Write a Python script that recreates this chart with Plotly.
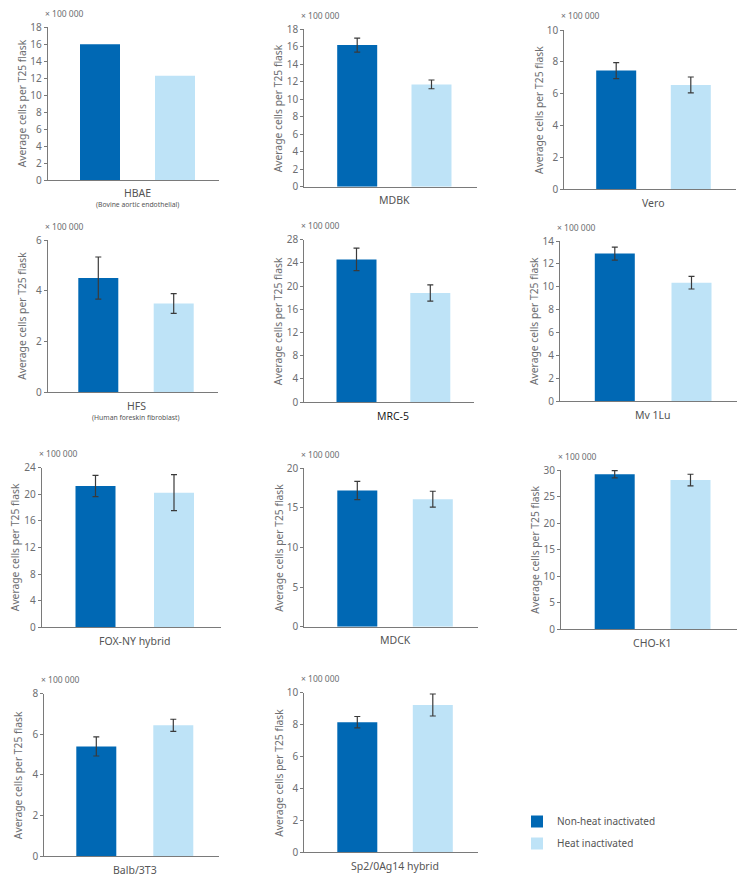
import plotly.graph_objects as go

# ---------------- data ----------------
cell_lines = ["HBAE", "MDBK", "Vero", "HFS", "MRC-5", "Mv 1Lu",
              "FOX-NY hybrid", "MDCK", "CHO-K1", "Balb/3T3", "Sp2/0Ag14 hybrid"]
subtitles = ["(Bovine aortic endothelial)", "", "", "(Human foreskin fibroblast)", "", "",
             "", "", "", "", ""]
series_names = ["Non-heat inactivated", "Heat inactivated"]
non_heat = [16.0, 16.2, 7.45, 4.5, 24.6, 12.9, 21.25, 17.2, 29.2, 5.4, 8.15]
non_heat_err = [None, 0.8, 0.5, 0.83, 1.95, 0.57, 1.6, 1.15, 0.7, 0.47, 0.36]
heat = [12.3, 11.7, 6.55, 3.5, 18.8, 10.35, 20.25, 16.1, 28.1, 6.44, 9.23]
heat_err = [None, 0.5, 0.5, 0.39, 1.4, 0.55, 2.7, 1.0, 1.1, 0.3, 0.69]
y_max = [18, 18, 10, 6, 28, 14, 24, 20, 30, 8, 10]
y_dtick = [2, 2, 2, 2, 4, 2, 4, 5, 5, 2, 2]
y_title = "Average cells per T25 flask"
scale_text = "× 100 000"

# ---------------- layout geometry (pixels) ----------------
W, H = 745, 881
# plot area: left, right, top, bottom
panel_px = [
    (47.7, 219.0, 27.3, 180.0),
    (304.3, 476.7, 29.3, 186.7),
    (564.3, 735.7, 30.0, 189.3),
    (47.7, 218.0, 240.0, 392.3),
    (304.3, 474.0, 239.7, 402.0),
    (560.0, 737.3, 241.0, 401.0),
    (41.7, 221.0, 467.7, 627.3),
    (304.3, 478.3, 468.3, 626.7),
    (561.0, 736.7, 470.0, 629.3),
    (44.3, 219.0, 693.7, 856.0),
    (304.3, 478.3, 692.7, 852.3),
]
# bar centres (dark, light) in pixels
bar_centres = [
    (100.0, 175.0), (357.2, 431.5), (616.2, 690.8),
    (98.3, 173.7), (356.5, 430.3), (614.8, 691.5),
    (95.5, 174.0), (357.3, 432.8), (614.7, 690.5),
    (96.3, 173.3), (357.3, 432.8),
]
bar_px = 40.0

DARK = "#0068B4"
LIGHT = "#BEE3F7"
AXIS = "#7a7a7a"
TXT = "#6d6e71"
FONT = "Noto Sans"

fig = go.Figure()
annotations = []

for i, name in enumerate(cell_lines):
    n = i + 1
    xa = "x" if n == 1 else f"x{n}"
    ya = "y" if n == 1 else f"y{n}"
    l, r, t, b = panel_px[i]
    cd, cl = bar_centres[i]
    unit = cl - cd
    xr = [-(cd - l) / unit, 1 + (r - cl) / unit]
    width = bar_px / unit

    for s, (vals, errs, col) in enumerate([(non_heat, non_heat_err, DARK),
                                           (heat, heat_err, LIGHT)]):
        e = errs[i]
        fig.add_trace(go.Bar(
            x=[series_names[s]], y=[vals[i]],
            width=[width],
            marker=dict(color=col, line=dict(width=0)),
            error_y=dict(type="data", array=[e if e is not None else 0],
                         visible=e is not None, color="#3a3a3a",
                         thickness=1.2, width=3),
            name=series_names[s], legendgroup=series_names[s],
            showlegend=(i == 0),
            xaxis=xa, yaxis=ya, hoverinfo="skip",
        ))

    fig.layout[f"xaxis{'' if n == 1 else n}"] = dict(
        domain=[l / W, r / W], anchor=ya, type="category",
        categoryorder="array", categoryarray=series_names,
        range=xr, showline=True, linecolor=AXIS, linewidth=1,
        showticklabels=False, ticks="", showgrid=False, zeroline=False,
        fixedrange=True, automargin=False,
    )
    fig.layout[f"yaxis{'' if n == 1 else n}"] = dict(
        domain=[1 - b / H, 1 - t / H], anchor=xa,
        range=[0, y_max[i]], dtick=y_dtick[i], tick0=0,
        showline=True, linecolor=AXIS, linewidth=1,
        ticks="outside", ticklen=3, tickcolor=AXIS,
        tickfont=dict(family=FONT, size=10, color=TXT),
        showgrid=False, zeroline=False, fixedrange=True, automargin=False,
    )

    dom_x = f"{xa} domain"
    dom_y = f"{ya} domain"
    # scale note
    annotations.append(dict(text=scale_text, xref=dom_x, yref=dom_y, x=0, y=1,
                            xshift=-5, yshift=14, xanchor="left", yanchor="middle",
                            showarrow=False, font=dict(family=FONT, size=8.5, color=TXT)))
    # y title
    annotations.append(dict(text=y_title, xref=dom_x, yref=dom_y, x=0, y=0.5,
                            xshift=-26, xanchor="center", yanchor="middle",
                            textangle=-90, showarrow=False,
                            font=dict(family=FONT, size=10.3, color=TXT)))
    # category label
    is_mrc = name == "MRC-5"
    annotations.append(dict(text=name, xref=xa, yref=dom_y, x=0.5, y=0,
                            yshift=-13.5, xanchor="center", yanchor="middle",
                            showarrow=False,
                            font=dict(family="Open Sans" if is_mrc else FONT, size=10.5,
                                      color="#111111" if is_mrc else "#555555")))
    if subtitles[i]:
        annotations.append(dict(text=subtitles[i], xref=xa, yref=dom_y, x=0.5, y=0,
                                yshift=-25, xanchor="center", yanchor="middle",
                                showarrow=False,
                                font=dict(family=FONT, size=6.8, color="#555555")))

fig.update_layout(
    width=W, height=H,
    margin=dict(l=0, r=0, t=0, b=0, autoexpand=False),
    paper_bgcolor="white", plot_bgcolor="white",
    barmode="overlay",
    annotations=annotations,
    showlegend=True,
    legend=dict(x=517 / W, y=1 - 807 / H, xanchor="left", yanchor="top",
                font=dict(family=FONT, size=10, color="#555555"),
                traceorder="grouped", tracegroupgap=3,
                bgcolor="rgba(0,0,0,0)"),
)

fig.write_html("out.html",
               config={"displayModeBar": False, "staticPlot": True},
               post_script="document.body.style.margin='0';document.body.style.overflow='hidden';")
